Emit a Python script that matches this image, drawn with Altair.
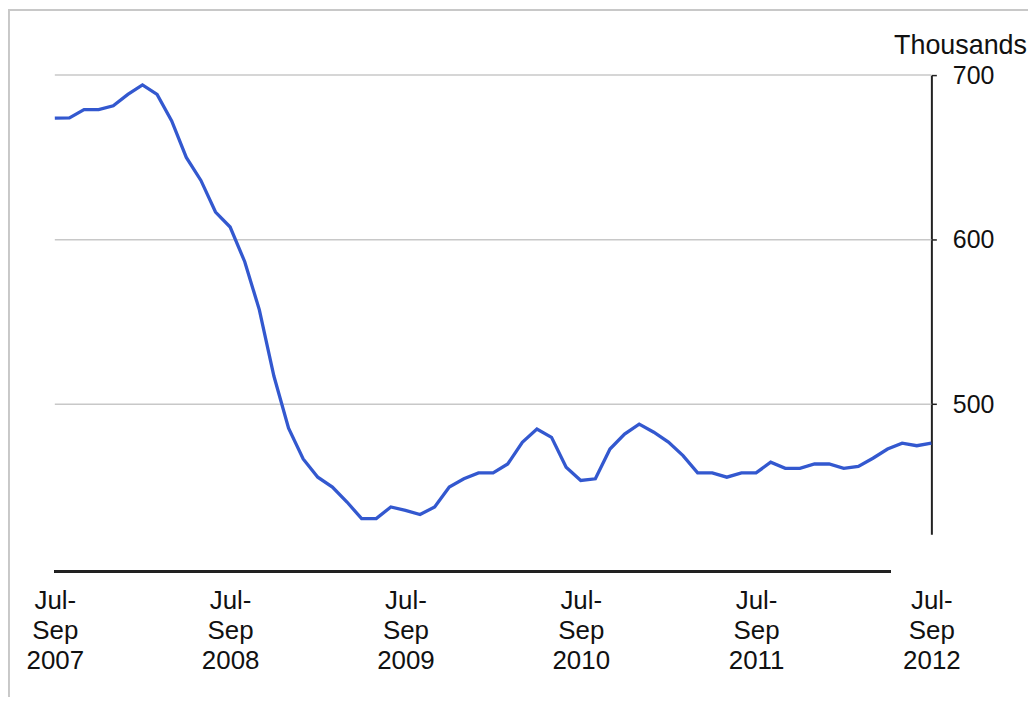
import altair as alt
import pandas as pd

# ---- data ----
month_names = ["Jan", "Feb", "Mar", "Apr", "May", "Jun",
               "Jul", "Aug", "Sep", "Oct", "Nov", "Dec"]

values = [673.8, 674.0, 679.0, 679.0, 681.3, 688.3, 694.0, 688.3, 672.2, 650.0,
          636.0, 616.8, 607.7, 586.6, 557.4, 517.0, 485.5, 466.8, 455.7, 449.7,
          440.6, 430.5, 430.5, 437.6, 435.5, 433.0, 437.6, 449.7, 454.7, 458.3,
          458.3, 463.7, 476.9, 484.9, 479.9, 461.7, 453.7, 454.7, 472.8, 481.9,
          487.9, 483.0, 477.0, 468.8, 458.3, 458.3, 455.7, 458.3, 458.3, 464.8,
          461.1, 461.1, 463.7, 463.7, 461.1, 462.3, 467.2, 472.8, 476.4, 474.8,
          476.4]

# rolling three-month periods, Jul-Sep 2007 ... Jul-Sep 2012
periods = []
for k in range(len(values)):
    m = 6 + k
    start = month_names[m % 12]
    end = month_names[(m + 2) % 12]
    year = 2007 + (m + 2) // 12
    periods.append(f"{start}-{end} {year}")

tick_positions = [0, 12, 24, 36, 48, 60]
tick_labels = [["Jul-", "Sep", "2007"], ["Jul-", "Sep", "2008"],
               ["Jul-", "Sep", "2009"], ["Jul-", "Sep", "2010"],
               ["Jul-", "Sep", "2011"], ["Jul-", "Sep", "2012"]]
y_ticks = [500, 600, 700]

df = pd.DataFrame({"i": list(range(len(values))), "period": periods, "value": values})
grid_df = pd.DataFrame({"v": y_ticks})

# label expression built from the tick label list
expr = "''"
for pos, lab in reversed(list(zip(tick_positions, tick_labels))):
    arr = "[" + ",".join(f"'{s}'" for s in lab) + "]"
    expr = f"datum.value == {pos} ? {arr} : ({expr})"

FONT = "Liberation Sans"
W, H = 1024, 690

x_scale = alt.Scale(domain=[0, 60], range=[47, 927], nice=False, zero=False)
y_scale = alt.Scale(domain=[421, 700], range=[527, 66], nice=False, zero=False)

x_axis = alt.Axis(values=tick_positions, labelExpr=expr, domain=False, ticks=False,
                  grid=False, labelFontSize=26, labelLineHeight=30, labelPadding=17,
                  labelBaseline="top", labelFont=FONT, labelColor="#111",
                  labelFlush=False, labelOverlap=False, offset=-126, title=None)

y_axis = alt.Axis(orient="right", values=y_ticks, grid=False, domain=True,
                  domainColor="#222", domainWidth=2, tickColor="#222", tickWidth=1.5,
                  tickSize=5, labelPadding=16, labelFontSize=25, labelFont=FONT,
                  labelColor="#111", offset=-97, title="Thousands", titleAngle=0,
                  titleAlign="left", titleBaseline="alphabetic", titleX=-38, titleY=44,
                  titleFontSize=27, titleFont=FONT, titleFontWeight="normal",
                  titleColor="#111")

grid = alt.Chart(grid_df).mark_rule(color="#c8c8c8", strokeWidth=1.5).encode(
    y=alt.Y("v:Q", scale=y_scale, axis=y_axis),
    x=alt.datum(0, scale=x_scale),
    x2=alt.datum(60),
)

line = alt.Chart(df).mark_line(color="#3358CF", strokeWidth=3.3).encode(
    x=alt.X("i:Q", scale=x_scale, axis=x_axis),
    y=alt.Y("value:Q", scale=y_scale, axis=y_axis),
    tooltip=["period:N", "value:Q"],
)

x_rule = alt.Chart(df).mark_rule(color="#222", strokeWidth=2).encode(
    x=alt.value(47), x2=alt.value(886), y=alt.value(564)
)

border_top = alt.Chart(df).mark_rule(color="#c8c8c8", strokeWidth=1.5).encode(
    x=alt.value(0), x2=alt.value(W), y=alt.value(0.5)
)
border_left = alt.Chart(df).mark_rule(color="#c8c8c8", strokeWidth=1.5).encode(
    y=alt.value(0), y2=alt.value(H), x=alt.value(0.5)
)

chart = alt.layer(grid, line, x_rule, border_top, border_left).properties(
    width=W, height=H, padding=0, background="white",
    autosize=alt.AutoSizeParams(type="none")
).configure_view(stroke="transparent", strokeWidth=0)

chart.save("out.html", embed_options={"renderer": "svg", "actions": False})
